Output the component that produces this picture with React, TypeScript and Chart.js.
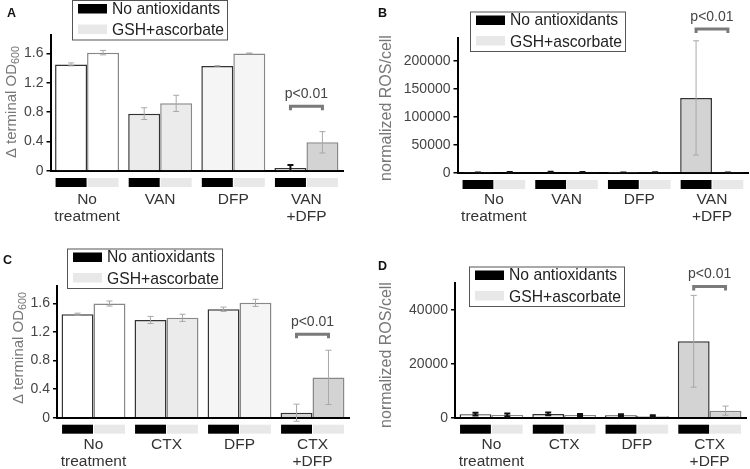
import React, { useEffect, useRef } from 'react';
import { Chart, registerables } from 'chart.js';
Chart.register(...registerables);

const FONT = '"Liberation Sans", Arial, sans-serif';

const CATS_AB = [['No', 'treatment'], ['VAN'], ['DFP'], ['VAN', '+DFP']];
const CATS_CD = [['No', 'treatment'], ['CTX'], ['DFP'], ['CTX', '+DFP']];
const SERIES = ['No antioxidants', 'GSH+ascorbate'];
const SERIES_SWATCH = ['#000000', '#e8e8e8'];

const A_NOANTI = [1.45, 0.78, 1.43, 0.04];
const A_NOANTI_ERR = [0.02, 0.08, 0.0, 0.04];
const A_GSH = [1.61, 0.92, 1.6, 0.39];
const A_GSH_ERR = [0.03, 0.11, 0.005, 0.145];

const B_NOANTI = [800, 1500, 600, 134000];
const B_NOANTI_ERR = [300, 600, 200, 102000];
const B_GSH = [1300, 1100, 1000, 700];
const B_GSH_ERR = [700, 500, 500, 300];

const C_NOANTI = [1.45, 1.37, 1.52, 0.07];
const C_NOANTI_ERR = [0.015, 0.05, 0.03, 0.12];
const C_GSH = [1.6, 1.4, 1.61, 0.565];
const C_GSH_ERR = [0.035, 0.05, 0.05, 0.38];

const D_NOANTI = [1300, 1400, 900, 28300];
const D_NOANTI_ERR = [500, 500, 400, 17000];
const D_GSH = [1000, 1000, 600, 2600];
const D_GSH_ERR = [600, 400, 300, 1700];

const TICKS_AC = [0, 0.4, 0.8, 1.2, 1.6];
const TICKS_B = [0, 50000, 100000, 150000, 200000];
const TICKS_D = [0, 20000, 40000];

const SIG_A = 0.88;
const SIG_B = 257000;
const SIG_C = 1.17;
const SIG_D = 48600;
const SIG_LABEL = 'p<0.01';

const GRAY = '#a8a8a8';
const BLACK = '#111111';

type Panel = {
  letter: string;
  x: number; y: number; w: number; h: number;
  cats: string[][];
  d0: number[]; e0: number[]; d1: number[]; e1: number[];
  ec0: string[]; ec1: string[];
  fills: string[];
  yMax: number; yTicks: number[];
  title: string; titleSub: string; titleSize: number; titleX: number; titleY: number;
  sig: number;
  padTop: number; yWidth: number; padRight: number; xHeight: number; labelPad: number;
  legendX: number; legendY: number; letterX: number; letterY: number;
};

const PANELS: Panel[] = [
  {
    letter: 'A', x: 0, y: 0, w: 375, h: 235, cats: CATS_AB,
    d0: A_NOANTI, e0: A_NOANTI_ERR, d1: A_GSH, e1: A_GSH_ERR,
    ec0: [GRAY, GRAY, GRAY, BLACK], ec1: [GRAY, GRAY, GRAY, GRAY],
    fills: ['#ffffff', '#ebebeb', '#f5f5f5', '#d3d3d3'],
    yMax: 1.85, yTicks: TICKS_AC,
    title: '\u0394 terminal OD', titleSub: '600', titleSize: 15, titleX: 12, titleY: 102,
    sig: SIG_A,
    padTop: 35, yWidth: 50.5, padRight: 32, xHeight: 64, labelPad: 20,
    legendX: 72, legendY: 0.5, letterX: 4, letterY: 14,
  },
  {
    letter: 'B', x: 375, y: 0, w: 375, h: 235, cats: CATS_AB,
    d0: B_NOANTI, e0: B_NOANTI_ERR, d1: B_GSH, e1: B_GSH_ERR,
    ec0: [BLACK, BLACK, BLACK, GRAY], ec1: [BLACK, BLACK, BLACK, BLACK],
    fills: ['#ffffff', '#ebebeb', '#f5f5f5', '#d3d3d3'],
    yMax: 241000, yTicks: TICKS_B,
    title: 'normalized ROS/cell', titleSub: '', titleSize: 16, titleX: 12, titleY: 108,
    sig: SIG_B,
    padTop: 38, yWidth: 82.5, padRight: 0, xHeight: 62, labelPad: 18,
    legendX: 95, legendY: 12, letterX: 0, letterY: 14,
  },
  {
    letter: 'C', x: 0, y: 235, w: 375, h: 234, cats: CATS_CD,
    d0: C_NOANTI, e0: C_NOANTI_ERR, d1: C_GSH, e1: C_GSH_ERR,
    ec0: [GRAY, GRAY, GRAY, GRAY], ec1: [GRAY, GRAY, GRAY, GRAY],
    fills: ['#ffffff', '#ebebeb', '#f5f5f5', '#d3d3d3'],
    yMax: 1.85, yTicks: TICKS_AC,
    title: '\u0394 terminal OD', titleSub: '600', titleSize: 15, titleX: 19, titleY: 113,
    sig: SIG_C,
    padTop: 50.7, yWidth: 57, padRight: 26, xHeight: 51.3, labelPad: 18,
    legendX: 67, legendY: 14, letterX: 0, letterY: 26,
  },
  {
    letter: 'D', x: 375, y: 235, w: 375, h: 234, cats: CATS_CD,
    d0: D_NOANTI, e0: D_NOANTI_ERR, d1: D_GSH, e1: D_GSH_ERR,
    ec0: [BLACK, BLACK, BLACK, GRAY], ec1: [BLACK, BLACK, BLACK, GRAY],
    fills: ['#ffffff', '#f2f2f2', '#dcdcdc', '#d3d3d3'],
    yMax: 50000, yTicks: TICKS_D,
    title: 'normalized ROS/cell', titleSub: '', titleSize: 16, titleX: 12, titleY: 120,
    sig: SIG_D,
    padTop: 47.7, yWidth: 80, padRight: 4, xHeight: 51.3, labelPad: 18,
    legendX: 94, legendY: 32, letterX: 0, letterY: 32,
  },
];

function makeOverlay(p: Panel) {
  return {
    id: 'overlay' + p.letter,
    afterDatasetsDraw(chart: any) {
      const ctx = chart.ctx;
      const ys = chart.scales.y;
      const area = chart.chartArea;
      const metas = [chart.getDatasetMeta(0), chart.getDatasetMeta(1)];
      const vals = [p.d0, p.d1];
      const errs = [p.e0, p.e1];
      const ecs = [p.ec0, p.ec1];
      ctx.save();
      // error bars
      for (let d = 0; d < 2; d++) {
        metas[d].data.forEach((bar: any, i: number) => {
          const v = vals[d][i];
          const e = errs[d][i];
          const yt = ys.getPixelForValue(v + e);
          const yb = ys.getPixelForValue(v - e);
          const col = ecs[d][i];
          ctx.strokeStyle = col;
          ctx.lineWidth = col === BLACK ? 2 : 1;
          ctx.beginPath();
          ctx.moveTo(bar.x, yt);
          ctx.lineTo(bar.x, yb);
          ctx.moveTo(bar.x - 3, yt);
          ctx.lineTo(bar.x + 3, yt);
          ctx.moveTo(bar.x - 3, yb);
          ctx.lineTo(bar.x + 3, yb);
          ctx.stroke();
        });
      }
      // swatches under axis
      for (let d = 0; d < 2; d++) {
        metas[d].data.forEach((bar: any) => {
          ctx.fillStyle = SERIES_SWATCH[d];
          ctx.fillRect(bar.x - bar.width / 2 + 0.5, area.bottom + 7, bar.width - 1, 9);
        });
      }
      // significance bracket
      const b1 = metas[0].data[3];
      const b2 = metas[1].data[3];
      const sy = ys.getPixelForValue(p.sig);
      ctx.strokeStyle = '#7a7a7a';
      ctx.lineWidth = 3;
      ctx.beginPath();
      ctx.moveTo(b1.x, sy + 4);
      ctx.lineTo(b1.x, sy);
      ctx.lineTo(b2.x, sy);
      ctx.lineTo(b2.x, sy + 4);
      ctx.stroke();
      ctx.fillStyle = '#444';
      ctx.font = `14px ${FONT}`;
      ctx.textAlign = 'center';
      ctx.textBaseline = 'middle';
      ctx.fillText(SIG_LABEL, (b1.x + b2.x) / 2, sy - 12);
      ctx.restore();
    },
    afterDraw(chart: any) {
      const ctx = chart.ctx;
      ctx.save();
      // legend
      const lx = p.legendX, ly = p.legendY;
      ctx.fillStyle = '#ffffff';
      ctx.fillRect(lx, ly, 155, 39.5);
      ctx.strokeStyle = '#555';
      ctx.lineWidth = 1;
      ctx.strokeRect(lx + 0.5, ly, 155, 39.5);
      ctx.font = `15.7px ${FONT}`;
      ctx.textAlign = 'left';
      ctx.textBaseline = 'middle';
      SERIES.forEach((s, i) => {
        ctx.fillStyle = SERIES_SWATCH[i];
        ctx.fillRect(lx + 6, ly + 3.5 + i * 20.5, 29, 9.5);
        ctx.fillStyle = '#222';
        ctx.fillText(s, lx + 40, ly + 9 + i * 21.5);
      });
      // panel letter
      ctx.font = `bold 12.5px ${FONT}`;
      ctx.fillStyle = '#111';
      ctx.textBaseline = 'middle';
      ctx.fillText(p.letter, p.letterX + 3, p.letterY);
      // y title
      ctx.translate(p.titleX, p.titleY);
      ctx.rotate(-Math.PI / 2);
      ctx.fillStyle = '#777';
      ctx.font = `${p.titleSize}px ${FONT}`;
      const mw = ctx.measureText(p.title).width;
      ctx.font = `${p.titleSize * 0.72}px ${FONT}`;
      const sw = p.titleSub ? ctx.measureText(p.titleSub).width : 0;
      const start = -(mw + sw) / 2;
      ctx.font = `${p.titleSize}px ${FONT}`;
      ctx.fillText(p.title, start, 0);
      if (p.titleSub) {
        ctx.font = `${p.titleSize * 0.72}px ${FONT}`;
        ctx.fillText(p.titleSub, start + mw, 4);
      }
      ctx.restore();
    },
  };
}

function PanelChart({ p }: { p: Panel }) {
  const ref = useRef<HTMLCanvasElement | null>(null);
  useEffect(() => {
    if (!ref.current) return;
    const chart = new Chart(ref.current, {
      type: 'bar',
      data: {
        labels: p.cats as any,
        datasets: [
          {
            label: SERIES[0], data: p.d0, backgroundColor: p.fills, borderColor: '#333',
            borderWidth: 1.5, borderSkipped: 'bottom', barPercentage: 1, categoryPercentage: 0.875,
          },
          {
            label: SERIES[1], data: p.d1, backgroundColor: p.fills, borderColor: '#888',
            borderWidth: 1.5, borderSkipped: 'bottom', barPercentage: 1, categoryPercentage: 0.875,
          },
        ],
      },
      options: {
        animation: false,
        responsive: false,
        maintainAspectRatio: false,
        layout: { padding: { left: 0, top: p.padTop, right: p.padRight, bottom: 0 } },
        plugins: { legend: { display: false }, tooltip: { enabled: false }, title: { display: false } },
        scales: {
          x: {
            grid: { display: false, drawTicks: false },
            border: { display: true, color: '#000', width: 2 },
            ticks: {
              font: { size: 15.5, family: FONT, lineHeight: 1.1 }, color: '#333',
              padding: p.labelPad, maxRotation: 0, minRotation: 0, autoSkip: false,
            },
            afterFit: (s: any) => { s.height = p.xHeight; },
          },
          y: {
            min: 0, max: p.yMax,
            afterBuildTicks: (s: any) => { s.ticks = p.yTicks.map((v) => ({ value: v })); },
            grid: { display: true, drawOnChartArea: false, drawTicks: true, tickLength: 4, color: '#000', lineWidth: 1.5 },
            border: { display: true, color: '#000', width: 2 },
            ticks: { font: { size: 14, family: FONT }, color: '#444', padding: 3, callback: (v: any) => String(v) },
            afterFit: (s: any) => { s.width = p.yWidth; },
          },
        },
      } as any,
      plugins: [makeOverlay(p)],
    });
    return () => chart.destroy();
  }, [p]);
  return (
    <canvas
      ref={ref}
      width={p.w}
      height={p.h}
      style={{ position: 'absolute', left: p.x, top: p.y, width: p.w, height: p.h, display: 'block' }}
    />
  );
}

export default function App() {
  return (
    <div style={{ position: 'absolute', left: 0, top: 0, width: 750, height: 469, background: '#fff', overflow: 'hidden' }}>
      {PANELS.map((p) => (
        <PanelChart key={p.letter} p={p} />
      ))}
    </div>
  );
}
